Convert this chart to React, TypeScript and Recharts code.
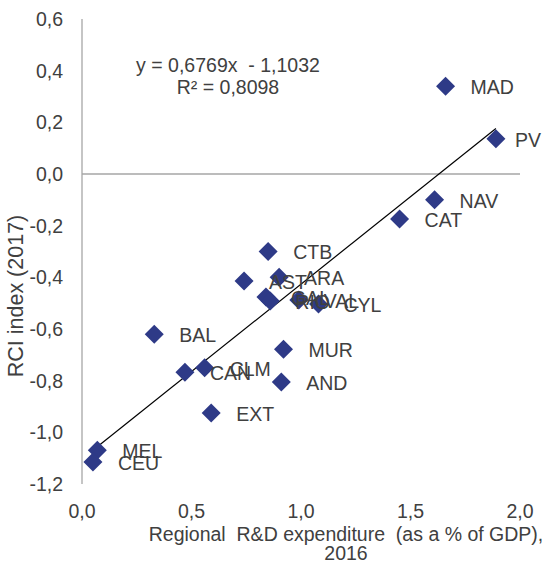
import React from "react";
import {
  ScatterChart,
  Scatter,
  XAxis,
  YAxis,
  ReferenceLine,
  Customized,
} from "recharts";

// regions (labels on the points)
const regions = [
  "MAD", "PV", "NAV", "CAT", "CTB", "AST", "ARA", "GAL", "RIO", "VAL",
  "CYL", "BAL", "CAN", "CLM", "MUR", "AND", "EXT", "MEL", "CEU",
];

// regional R&D expenditure, % of GDP, 2016
const rdExpenditure = [
  1.66, 1.89, 1.61, 1.45, 0.85, 0.74, 0.9, 0.84, 0.86, 0.99,
  1.08, 0.33, 0.47, 0.56, 0.92, 0.91, 0.59, 0.07, 0.05,
];

// RCI index 2017
const rciIndex = [
  0.34, 0.136, -0.1, -0.174, -0.3, -0.414, -0.4, -0.476, -0.492, -0.488,
  -0.503, -0.62, -0.767, -0.75, -0.678, -0.805, -0.925, -1.069, -1.115,
];

const xTicks = [0, 0.5, 1, 1.5, 2];
const yTicks = [-1.2, -1, -0.8, -0.6, -0.4, -0.2, 0, 0.2, 0.4, 0.6];

// linear trend shown in the chart
const trendSlope = 0.6769;
const trendIntercept = -1.1032;

const data = regions.map((name, i) => ({
  name,
  x: rdExpenditure[i],
  y: rciIndex[i],
}));

const xMin = Math.min(...rdExpenditure);
const xMax = Math.max(...rdExpenditure);

const FONT = "'Liberation Sans', Arial, sans-serif";
const TEXT = "#404040";
const MARKER = "#2E3A87";
const AXIS = "#A6A6A6";
const FS = 19.5;

const fmt = (v: number) => v.toFixed(1).replace(".", ",").replace("-0,0", "0,0");

const Diamond = (props: any) => {
  const { cx, cy } = props;
  const r = 9.5;
  return (
    <path
      d={`M${cx},${cy - r}L${cx + r},${cy}L${cx},${cy + r}L${cx - r},${cy}Z`}
      fill={MARKER}
    />
  );
};

// label to the right of the point, pushed back inside when it would run off
const PointLabel = (props: any) => {
  const { cx, cy, payload } = props;
  const w = payload.name.length * 12.5;
  const nearEdge = cx + 25 + w > 541;
  return (
    <text
      x={nearEdge ? 541 : cx + 25}
      y={cy + 1}
      dy="0.35em"
      textAnchor={nearEdge ? "end" : "start"}
      fill={TEXT}
      fontSize={FS}
      fontFamily={FONT}
    >
      {payload.name}
    </text>
  );
};

const Titles = () => (
  <g fontFamily={FONT} fill={TEXT} fontSize={FS}>
    <text x={228} y={65} dy="0.35em" textAnchor="middle" style={{ whiteSpace: "pre" }}>
      y = 0,6769x  - 1,1032
    </text>
    <text x={228} y={87} dy="0.35em" textAnchor="middle">
      R² = 0,8098
    </text>
    <text
      x={15}
      y={296}
      dy="0.35em"
      textAnchor="middle"
      fontSize={21.5}
      transform="rotate(-90 15 296)"
    >
      RCI index (2017)
    </text>
    <text x={346} y={534} dy="0.35em" textAnchor="middle" style={{ whiteSpace: "pre" }}>
      Regional  R&amp;D expenditure  (as a % of GDP),
    </text>
    <text x={346} y={553} dy="0.35em" textAnchor="middle">
      2016
    </text>
  </g>
);

export default function App() {
  return (
    <div
      style={{
        position: "absolute",
        left: 0,
        top: 0,
        width: 542,
        height: 564,
        background: "#fff",
      }}
    >
      <ScatterChart
        width={542}
        height={564}
        margin={{ top: 19, right: 22, bottom: 40, left: 12 }}
      >
        <XAxis
          type="number"
          dataKey="x"
          domain={[0, 2]}
          ticks={xTicks}
          tickFormatter={fmt}
          axisLine={false}
          tickLine={false}
          tickSize={0}
          tickMargin={20}
          height={40}
          tick={{ fill: TEXT, fontSize: FS, fontFamily: FONT }}
        />
        <YAxis
          type="number"
          dataKey="y"
          domain={[-1.2, 0.6]}
          ticks={yTicks}
          tickFormatter={fmt}
          axisLine={{ stroke: AXIS, strokeWidth: 1.3 }}
          tickLine={false}
          tickSize={0}
          tickMargin={19}
          width={70}
          tick={{ fill: TEXT, fontSize: FS, fontFamily: FONT }}
        />
        <ReferenceLine y={0} stroke={AXIS} strokeWidth={1.3} />
        <Scatter data={data} shape={Diamond} isAnimationActive={false} />
        <ReferenceLine
          segment={[
            { x: xMin, y: trendSlope * xMin + trendIntercept },
            { x: xMax, y: trendSlope * xMax + trendIntercept },
          ]}
          stroke="#000"
          strokeWidth={1.2}
        />
        <Scatter data={data} shape={PointLabel} isAnimationActive={false} />
        <Customized component={Titles} />
      </ScatterChart>
    </div>
  );
}
